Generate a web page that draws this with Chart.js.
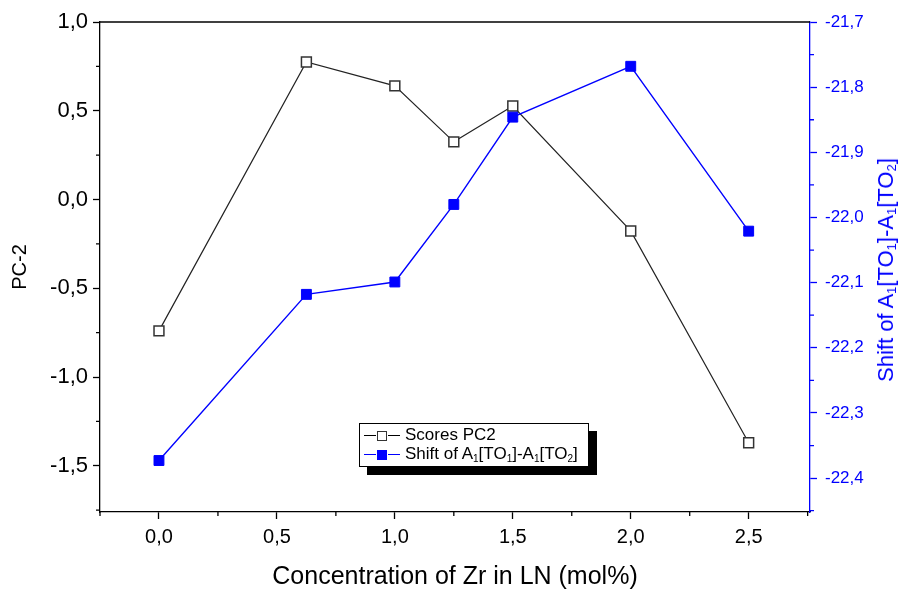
<!DOCTYPE html>
<html>
<head>
<meta charset="utf-8">
<script src="https://cdn.jsdelivr.net/npm/chart.js@4"></script>
<style>
  body { margin: 0; background: #fff; }
  #wrap { position: relative; width: 904px; height: 592px; font-family: 'Liberation Sans', Arial, sans-serif; }
  #legend { position: absolute; left: 359px; top: 423px; width: 228px; height: 42px; border: 1px solid #000; background: #fff; box-shadow: 8px 8px 0 #000; font-size: 17px; }
  #legend .row { position: absolute; left: 4px; height: 20px; line-height: 20px; white-space: nowrap; }
  #legend .ln { display: inline-block; width: 12px; height: 0; border-top: 1px solid #000; vertical-align: middle; }
  #legend .sq { display: inline-block; width: 8px; height: 8px; border: 1px solid #333; background: #fff; vertical-align: middle; margin: 0 1px; }
  #legend .blue .ln { border-top-color: #0000ff; }
  #legend .blue .sq { border-color: #0000ff; background: #0000ff; }
  #legend .txt { margin-left: 5px; }
  sub { font-size: 10px; vertical-align: -3px; line-height: 0; }
  #ytitle2 { position: absolute; left: 886px; top: 270px; transform: translate(-50%, -50%) rotate(-90deg); color: #0000ff; font-size: 22px; white-space: nowrap; }
  #ytitle2 sub { font-size: 13px; }
</style>
</head>
<body>
<div id="wrap">
  <canvas id="myChart" width="904" height="592"></canvas>
  <div id="legend">
    <div class="row" style="top:1px"><span class="ln"></span><span class="sq"></span><span class="ln"></span><span class="txt">Scores PC2</span></div>
    <div class="row blue" style="top:20px"><span class="ln"></span><span class="sq"></span><span class="ln"></span><span class="txt" style="color:#000">Shift of A<sub>1</sub>[TO<sub>1</sub>]-A<sub>1</sub>[TO<sub>2</sub>]</span></div>
  </div>
  <div id="ytitle2">Shift of A<sub>1</sub>[TO<sub>1</sub>]-A<sub>1</sub>[TO<sub>2</sub>]</div>
</div>
<script>
// data
var concentration = [0, 0.625, 1.0, 1.25, 1.5, 2.0, 2.5];
var scoresPC2 = [-0.74, 0.775, 0.64, 0.325, 0.527, -0.177, -1.37];
var shiftTO = [-22.373, -22.118, -22.099, -21.98, -21.846, -21.768, -22.021];

var xTicks = [0, 0.5, 1.0, 1.5, 2.0, 2.5];
var yTicks = [-1.5, -1.0, -0.5, 0, 0.5, 1.0];
var y2Ticks = [-22.4, -22.3, -22.2, -22.1, -22.0, -21.9, -21.8, -21.7];

function comma(v) { return v.toFixed(1).replace('.', ','); }
function pts(ys) { return concentration.map(function (x, i) { return { x: x, y: ys[i] }; }); }
function setTicks(list) { return function (scale) { scale.ticks = list.map(function (v) { return { value: v }; }); }; }

// minor ticks + top frame line
var frame = {
  id: 'frame',
  afterDraw: function (chart) {
    var ctx = chart.ctx, a = chart.chartArea;
    ctx.save();
    ctx.lineWidth = 1.3;
    ctx.strokeStyle = '#000';
    ctx.beginPath(); ctx.moveTo(a.left, a.top); ctx.lineTo(a.right, a.top); ctx.stroke();
    function minors(scale, list, draw) {
      var step = list[1] - list[0];
      for (var v = list[0] - step / 2; v <= scale.max + 1e-9; v += step) {
        if (v >= scale.min - 1e-9) draw(scale.getPixelForValue(v));
      }
    }
    ctx.beginPath();
    minors(chart.scales.x, xTicks, function (p) { ctx.moveTo(p, a.bottom); ctx.lineTo(p, a.bottom + 4); });
    minors(chart.scales.y, yTicks, function (p) { ctx.moveTo(a.left, p); ctx.lineTo(a.left - 4, p); });
    ctx.stroke();
    ctx.strokeStyle = '#0000ff';
    ctx.beginPath();
    minors(chart.scales.y2, y2Ticks, function (p) { ctx.moveTo(a.right, p); ctx.lineTo(a.right + 4, p); });
    ctx.stroke();
    ctx.restore();
  }
};

var ctx = document.getElementById('myChart').getContext('2d');
var chart = new Chart(ctx, {
  type: 'scatter',
  data: {
    datasets: [{
      label: 'Scores PC2',
      data: pts(scoresPC2),
      yAxisID: 'y',
      showLine: true,
      borderColor: '#222',
      borderWidth: 1.2,
      pointStyle: 'rect',
      pointRadius: 7,
      pointHoverRadius: 7,
      pointBackgroundColor: '#fff',
      pointBorderColor: '#333',
      pointBorderWidth: 1.5,
      order: 1
    },
    {
      label: 'Shift of A1[TO1]-A1[TO2]',
      data: pts(shiftTO),
      yAxisID: 'y2',
      showLine: true,
      borderColor: '#0000ff',
      borderWidth: 1.4,
      pointStyle: 'rect',
      pointRadius: 7,
      pointHoverRadius: 7,
      pointBackgroundColor: '#0000ff',
      pointBorderColor: '#0000ff',
      pointBorderWidth: 1,
      order: 0
    }]
  },
  options: {
    responsive: false,
    animation: false,
    layout: { padding: { top: 22, left: 0, right: 0, bottom: 0 } },
    plugins: {
      legend: { display: false },
      tooltip: { enabled: false }
    },
    scales: {
      x: {
        type: 'linear',
        min: -0.25,
        max: 2.76,
        afterBuildTicks: setTicks(xTicks),
        afterFit: function (s) { s.height = 80; },
        grid: { drawOnChartArea: false, tickLength: 7, color: '#000', tickWidth: 1.3 },
        border: { color: '#000', width: 1.3 },
        ticks: { color: '#000', padding: 6, font: { family: 'Liberation Sans', size: 20 }, callback: comma },
        title: { display: true, text: 'Concentration of Zr in LN (mol%)', color: '#000', font: { family: 'Liberation Sans', size: 25 }, padding: { top: 0, bottom: 0 } }
      },
      y: {
        position: 'left',
        min: -1.76,
        max: 1.0,
        afterBuildTicks: setTicks(yTicks),
        afterFit: function (s) { s.width = 100; },
        grid: { drawOnChartArea: false, tickLength: 7, color: '#000', tickWidth: 1.3 },
        border: { color: '#000', width: 1.3 },
        ticks: { color: '#000', padding: 5, font: { family: 'Liberation Sans', size: 22 }, callback: comma },
        title: { display: true, text: 'PC-2', color: '#000', font: { family: 'Liberation Sans', size: 20 }, padding: { top: 8, bottom: 0 } }
      },
      y2: {
        position: 'right',
        min: -22.452,
        max: -21.7,
        afterBuildTicks: setTicks(y2Ticks),
        afterFit: function (s) { s.width = 94; },
        grid: { drawOnChartArea: false, tickLength: 7, color: '#0000ff', tickWidth: 1.3 },
        border: { color: '#0000ff', width: 1.3 },
        ticks: { color: '#0000ff', padding: 8, font: { family: 'Liberation Sans', size: 17 }, callback: comma }
      }
    }
  },
  plugins: [frame]
});
</script>
</body>
</html>
